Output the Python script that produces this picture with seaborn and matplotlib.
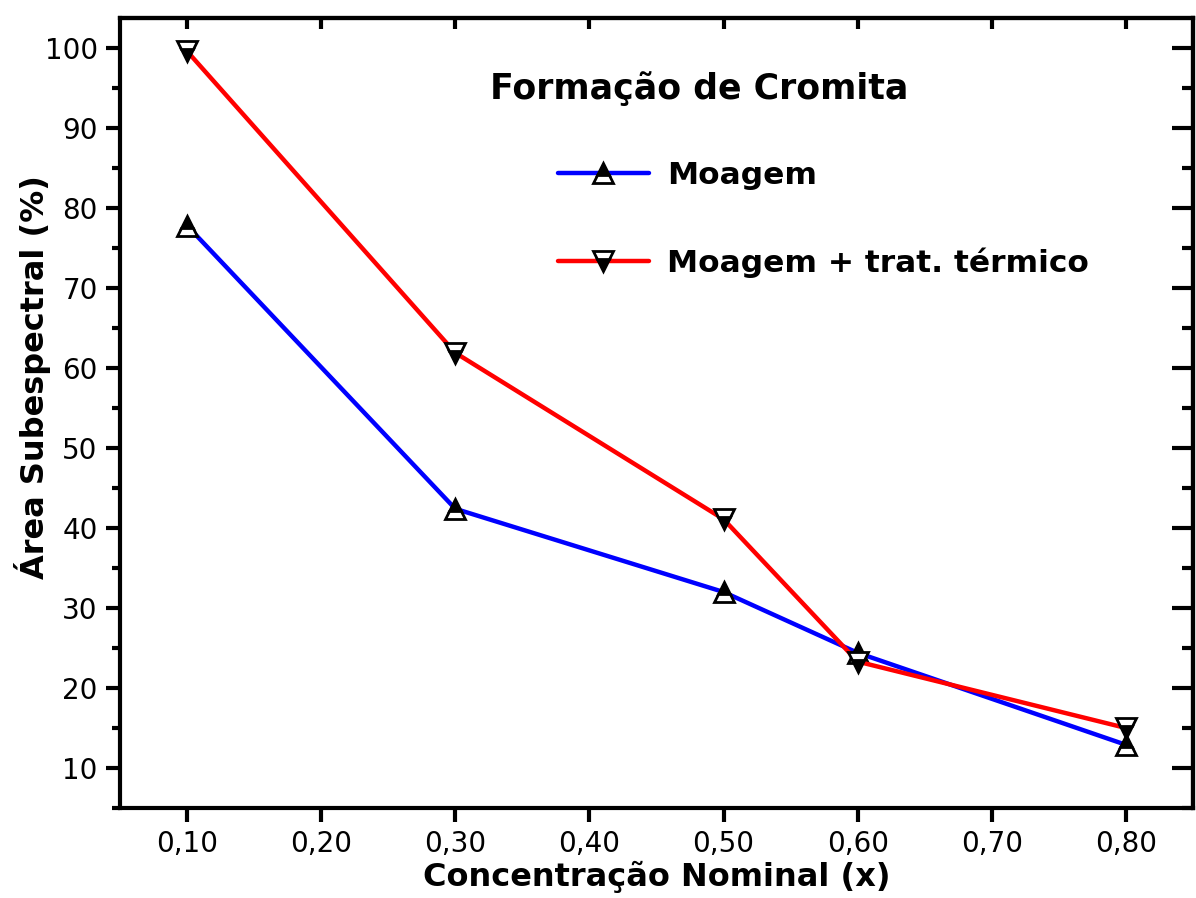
import numpy as np
import pandas as pd
import matplotlib
matplotlib.use("Agg")
import matplotlib.pyplot as plt
from matplotlib.ticker import MultipleLocator, FuncFormatter
from matplotlib.lines import Line2D
import seaborn as sns

concentracao = [0.10, 0.30, 0.50, 0.60, 0.80]
moagem = [77.8, 42.4, 32.0, 24.4, 12.9]
moagem_trat = [99.6, 61.9, 41.1, 23.3, 15.0]

sns.set_style("ticks")
plt.rcParams['font.family'] = ['DejaVu Sans']
plt.rcParams.update({'text.color': 'k', 'axes.labelcolor': 'k', 'axes.edgecolor': 'k',
                     'xtick.color': 'k', 'ytick.color': 'k'})
bold = dict(family=['DejaVu Sans'], weight='bold', size=23)

fig = plt.figure(figsize=(11.96, 8.98), dpi=100)
ax = fig.add_axes([0.1003, 0.1002, 0.8972, 0.8798])

df = pd.DataFrame({"x": concentracao, "m": moagem, "mt": moagem_trat})

mk = dict(markersize=15, markeredgecolor='k', markeredgewidth=2,
          markerfacecolor='k', markerfacecoloralt='w')
sns.lineplot(data=df, x="x", y="m", ax=ax, color='#0000ff', lw=3.2,
             marker='^', fillstyle='top', **mk)
sns.lineplot(data=df, x="x", y="mt", ax=ax, color='#ff0000', lw=3.2,
             marker='v', fillstyle='bottom', **mk)

ax.set_xlim(0.05, 0.85)
ax.set_ylim(5, 103.75)
xt = [0.1, 0.2, 0.3, 0.4, 0.5, 0.6, 0.7, 0.8]
ax.set_xticks(xt)
ax.xaxis.set_major_formatter(FuncFormatter(lambda v, p: f"{v:.2f}".replace('.', ',')))
ax.set_yticks(range(10, 101, 10))
ax.yaxis.set_minor_locator(MultipleLocator(5))

for s in ax.spines.values():
    s.set_linewidth(3)
ax.tick_params(axis='both', which='major', direction='out', length=10, width=3,
               labelsize=20, pad=6, top=False, right=False)
ax.tick_params(axis='y', which='minor', direction='out', length=6, width=3, right=False)
ax.tick_params(axis='x', which='minor', bottom=False, top=False)

# inward ticks on right and top
axr = ax.secondary_yaxis('right')
axr.set_yticks(range(10, 101, 10))
axr.yaxis.set_minor_locator(MultipleLocator(5))
axr.tick_params(which='major', direction='in', length=15, width=3, labelright=False)
axr.tick_params(which='minor', direction='in', length=8, width=3)
axr.spines['right'].set_linewidth(3)
axt = ax.secondary_xaxis('top')
axt.set_xticks(xt)
axt.tick_params(direction='in', length=8, width=3, labeltop=False)
axt.spines['top'].set_linewidth(3)

ax.set_xlabel("Concentração Nominal (x)", fontdict=bold, labelpad=2)
ax.set_ylabel("Área Subespectral (%)", fontdict=bold)
ax.yaxis.set_label_coords(-0.064, 0.546)
ax.text(0.54, 0.911, "Formação de Cromita", transform=ax.transAxes,
        ha='center', va='center', family=['DejaVu Sans'], weight='bold', size=25)

handles = [
    Line2D([], [], color='#0000ff', lw=3.2, marker='^', fillstyle='top', **mk),
    Line2D([], [], color='#ff0000', lw=3.2, marker='v', fillstyle='bottom', **mk),
]
leg = ax.legend(handles, ["Moagem", "Moagem + trat. térmico"], loc='upper left',
                bbox_to_anchor=(0.382, 0.855), frameon=False, numpoints=1,
                handlelength=2.9, labelspacing=1.85, handletextpad=0.6,
                prop={'family': ['DejaVu Sans'], 'size': 22.5, 'weight': 'bold'})

fig.savefig("out.png", dpi=100)
